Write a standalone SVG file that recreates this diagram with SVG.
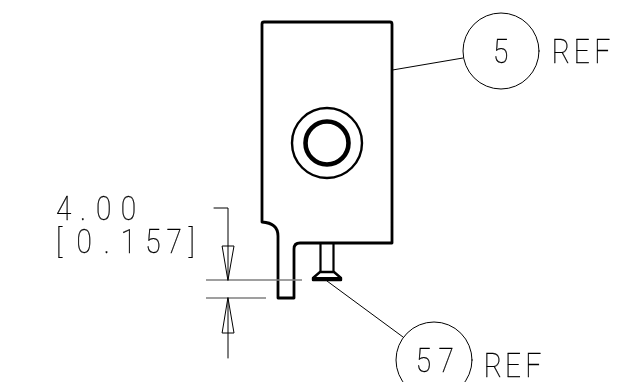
<svg xmlns="http://www.w3.org/2000/svg" width="637" height="382" viewBox="0 0 637 382">
<style>
.t{font-family:"Roboto","Liberation Sans",sans-serif;font-weight:100;font-size:33px;fill:#000;stroke:#000;stroke-width:.35px;filter:url(#gray)}
.k{fill:none;stroke:#000;stroke-linejoin:round;stroke-linecap:round}
.h{stroke-width:2.8}
.n{stroke-width:1}
.g{fill:none;stroke:#808080;stroke-width:1.4}
</style>
<defs><filter id="gray" x="-5%" y="-5%" width="110%" height="110%" color-interpolation-filters="sRGB"><feOffset dx="0" dy="0"/></filter></defs>
<rect width="637" height="382" fill="#fff"/>
<g id="part">
<path class="k h" d="M262 222V24Q262 22 264 22H390Q392 22 392 24V243H300Q294 243 294 249V298H278V236Q278 223 262 222Z"/>
<path class="k" stroke-width="2.200" d="M320.500 243V272M333.500 243V272"/>
<path d="M320 272H334L341 278V280H313V278Z" fill="#fff" stroke="#000" stroke-width="2.400" stroke-linejoin="round"/>
<path d="M313 278H341V280H313Z" fill="#000" stroke="#000" stroke-width="1.800"/>
</g>
<g id="hole">
<circle class="k" stroke-width="2.400" cx="327" cy="143" r="35"/>
<circle class="k" stroke-width="4.600" cx="327" cy="143" r="21.500"/>
</g>
<g id="connectors">
<path class="k n" d="M392.500 70L463 58M327 281L403 337"/>
<path class="k n" d="M214 208H228V280M228 298V358"/>
<path class="g" d="M206 280H302M206 298H266"/>
<path class="k n" d="M222.500 246H234L228 280ZM222.500 333H234L228 298Z"/>
</g>
<g id="dim-4-00">
<text class="t" transform="scale(.85 1)" x="66 94 113 142" y="220">4.00</text>
<text class="t" transform="scale(.85 1)" x="66 90 122 142 171 196 222" y="253">[0.157]</text>
</g>
<g id="balloon-5">
<circle class="k n" cx="501" cy="51" r="38"/>
<text class="t" transform="scale(.85 1)" x="580" y="63">5</text>
<text class="t" transform="scale(.85 1)" x="649 675 699" y="63">REF</text>
</g>
<g id="balloon-57">
<circle class="k n" cx="434" cy="360" r="38"/>
<text class="t" transform="scale(.85 1)" x="489 516" y="372">57</text>
<text class="t" transform="scale(.85 1)" x="569 594 618" y="377">REF</text>
</g>
</svg>
